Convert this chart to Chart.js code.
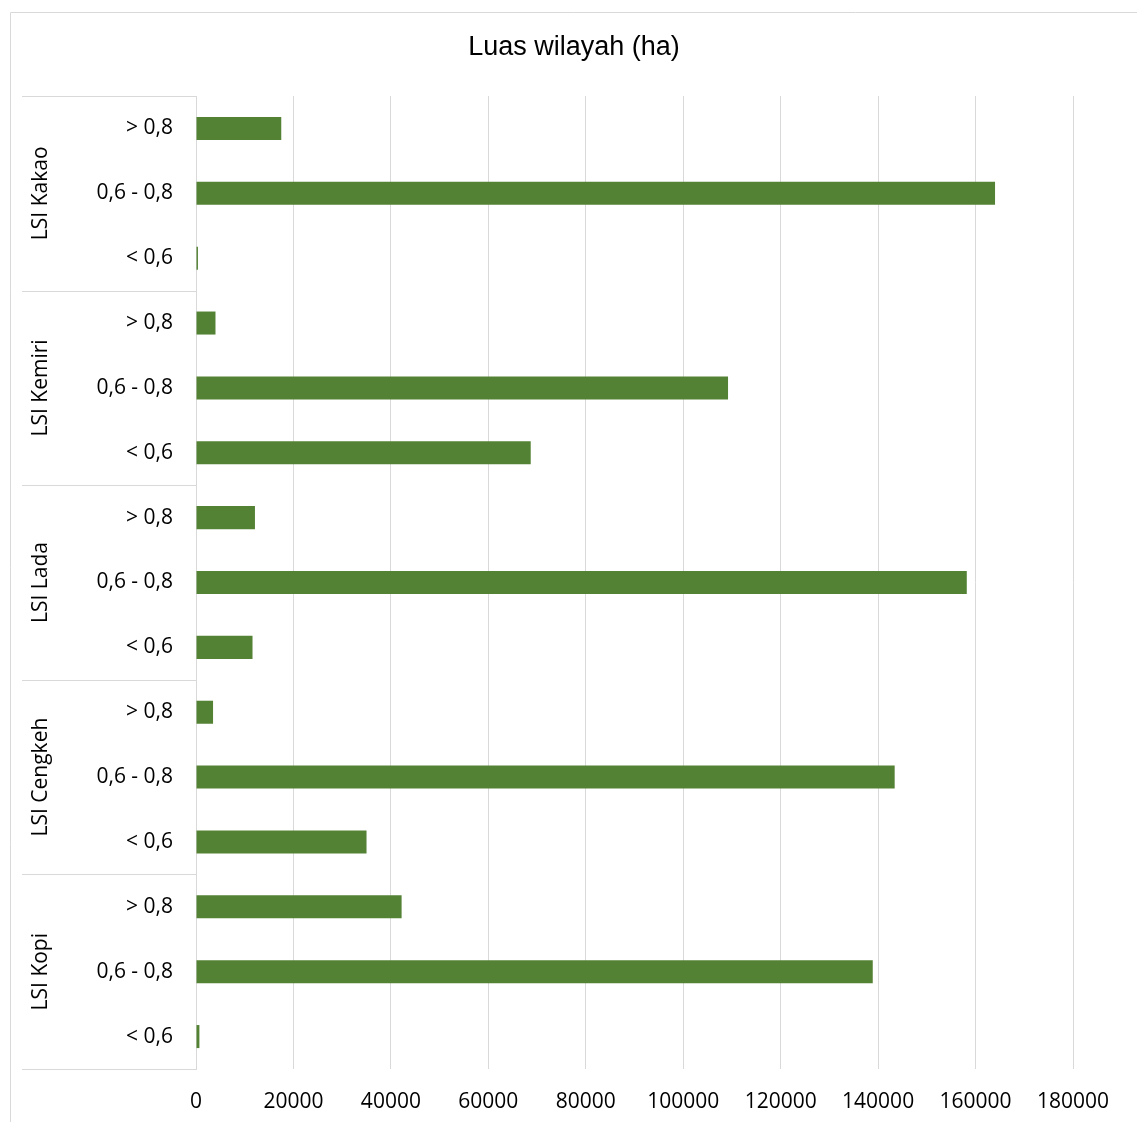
<!DOCTYPE html>
<html>
<head>
<meta charset="utf-8">
<script src="https://cdn.jsdelivr.net/npm/chart.js@4.4.0/dist/chart.umd.min.js"></script>
<style>
  html, body { margin: 0; padding: 0; background: #fff; }
  #wrap { width: 1137px; height: 1122px; }
</style>
</head>
<body>
<div id="wrap"><canvas id="myChart" width="1137" height="1122"></canvas></div>
<script>
// groups top to bottom, each with the same three LSI classes
const groups = ['LSI Kakao', 'LSI Kemiri', 'LSI Lada', 'LSI Cengkeh', 'LSI Kopi'];
const classes = ['> 0,8', '0,6 - 0,8', '< 0,6'];

// luas wilayah (ha) per class, same order as classes
const kakao = [17500, 164000, 400];
const kemiri = [4000, 109200, 68700];
const lada = [12100, 158200, 11600];
const cengkeh = [3500, 143400, 35000];
const kopi = [42200, 138900, 700];

const xTicks = [0, 20000, 40000, 60000, 80000, 100000, 120000, 140000, 160000, 180000];
const chartTitle = 'Luas wilayah (ha)';

const groupValues = [kakao, kemiri, lada, cengkeh, kopi];
const labels = [];
const values = [];
groups.forEach((g, i) => {
  classes.forEach((c, j) => {
    labels.push(c);
    values.push(groupValues[i][j]);
  });
});

const LINE = '#d9d9d9';
const tickFont = { family: 'Open Sans', size: 21 };

// frame, title, group separators and rotated group names on the left
const groupAxis = {
  id: 'groupAxis',
  afterDraw(chart) {
    const ctx = chart.ctx;
    const y = chart.scales.y;
    const left = 22;
    const right = chart.chartArea.left;
    ctx.save();
    ctx.strokeStyle = LINE;
    ctx.lineWidth = 1;
    // outer frame (continues past the window)
    ctx.beginPath();
    ctx.moveTo(10.5, 1122);
    ctx.lineTo(10.5, 12.5);
    ctx.lineTo(1137, 12.5);
    ctx.stroke();

    // title, centred on the whole frame
    ctx.fillStyle = '#000';
    ctx.font = '27px "Liberation Sans"';
    ctx.textAlign = 'center';
    ctx.textBaseline = 'middle';
    ctx.fillText(chartTitle, 574, 48);

    const n = classes.length;
    const bounds = [y.top];
    for (let i = 1; i < groups.length; i++) {
      bounds.push((y.getPixelForValue(i * n - 1) + y.getPixelForValue(i * n)) / 2);
    }
    bounds.push(y.bottom);
    ctx.beginPath();
    bounds.forEach(b => {
      const yy = Math.round(b) + 0.5;
      ctx.moveTo(left, yy);
      ctx.lineTo(right, yy);
    });
    ctx.stroke();

    ctx.font = tickFont.size + 'px "' + tickFont.family + '"';
    groups.forEach((g, i) => {
      const cy = y.getPixelForValue(i * n + 1);
      ctx.save();
      ctx.translate(41, cy);
      ctx.rotate(-Math.PI / 2);
      ctx.fillText(g, 0, 0);
      ctx.restore();
    });
    ctx.restore();
  }
};

new Chart(document.getElementById('myChart'), {
  type: 'bar',
  data: {
    labels: labels,
    datasets: [{
      label: chartTitle,
      data: values,
      backgroundColor: '#548235',
      borderWidth: 0,
      barPercentage: 0.355,
      categoryPercentage: 1
    }]
  },
  options: {
    indexAxis: 'y',
    responsive: false,
    animation: false,
    layout: { padding: { left: 10, right: 64, top: 96, bottom: 0 } },
    plugins: {
      legend: { display: false },
      tooltip: { enabled: false },
      title: { display: false }
    },
    scales: {
      x: {
        min: 0,
        max: 180000,
        afterBuildTicks(scale) {
          scale.ticks = xTicks.map(v => ({ value: v }));
        },
        afterFit(scale) { scale.height = 53; },
        grid: { color: LINE, lineWidth: 1, drawTicks: false },
        border: { display: false },
        ticks: {
          color: '#000',
          font: tickFont,
          padding: 20,
          maxRotation: 0,
          callback: v => String(v)
        }
      },
      y: {
        afterFit(scale) { scale.width = 186; },
        grid: { display: false, drawTicks: false },
        border: { display: true, color: LINE, width: 1 },
        ticks: {
          color: '#000',
          font: tickFont,
          padding: 23,
          autoSkip: false
        }
      }
    }
  },
  plugins: [groupAxis]
});
</script>
</body>
</html>
